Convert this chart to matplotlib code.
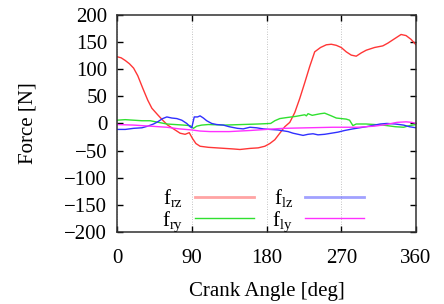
import matplotlib
matplotlib.use('Agg')
import matplotlib.pyplot as plt

plt.rcParams['font.family'] = 'Liberation Serif'
plt.rcParams['mathtext.fontset'] = 'custom'
plt.rcParams['mathtext.rm'] = 'Liberation Serif'
plt.rcParams['mathtext.it'] = 'Liberation Serif:italic'

# crank angle [deg] and force [N]
ang_rz = [0, 5, 10, 15, 20, 25, 31, 37, 42, 49, 55, 61, 68, 76, 82, 87, 91, 95,
          100, 110, 120, 130, 140, 148, 160, 170, 178, 184, 190, 196, 202, 208,
          214, 220, 226, 232, 238, 245, 252, 258, 264, 270, 276, 282, 288, 294,
          300, 310, 320, 326, 334, 342, 348, 354, 360]
f_rz = [123, 121, 116, 110, 102, 88, 65, 43, 28, 16, 6, -3, -10, -18, -20, -17,
        -28, -37, -42, -44, -45, -46, -47, -48, -46, -45, -42, -37, -30, -18,
        -6, 2, 20, 46, 75, 105, 132, 140, 145, 146, 144, 140, 132, 126, 124,
        130, 135, 140, 143, 148, 156, 164, 162, 155, 145]

ang_ry = [0, 10, 20, 30, 40, 50, 60, 70, 80, 88, 92, 96, 102, 110, 130, 150,
          170, 185, 190, 196, 205, 215, 226, 228, 230, 235, 245, 250, 258, 264,
          270, 276, 280, 284, 288, 300, 320, 335, 345, 352, 360]
f_ry = [6, 7, 6, 5, 5, 2, -1, -2, -3, -4, -9, -5, -3, -2, -3, -2, -1, 0, 5, 9,
        11, 13, 16, 14, 18, 15, 18, 19, 14, 10, 9, 8, 6, -4, -1, -1, -3, -6,
        -7, -4, -2]

ang_lz = [0, 10, 20, 30, 37, 44, 49, 55, 60, 66, 72, 78, 84, 88, 90, 93, 97,
          100, 104, 108, 114, 120, 128, 135, 145, 152, 160, 168, 176, 184, 194,
          206, 212, 218, 224, 230, 236, 242, 250, 258, 266, 274, 284, 300, 310,
          317, 325, 335, 345, 352, 360]
f_lz = [-11, -11, -9, -8, -5, -1, 3, 9, 12, 10, 9, 6, 0, -6, -8, 12, 12, 14,
        10, 5, 0, -2, -3, -6, -9, -10, -7, -8, -10, -11, -12, -15, -18, -20,
        -22, -20, -19, -21, -20, -18, -16, -13, -10, -6, -3, -1, 0, -1, -3, -6,
        -8]

ang_ly = [0, 20, 40, 60, 75, 90, 100, 112, 135, 160, 180, 200, 230, 260, 290,
          310, 324, 337, 348, 355, 360]
f_ly = [-2, -3, -5, -7, -10, -12, -14, -15, -15, -13, -11, -9, -8, -7, -7, -5,
        -2, 2, 3, 2, 0]

fig = plt.figure(figsize=(4.44, 3.04), dpi=100)
ax = fig.add_axes([0.2635, 0.237, 0.6735, 0.7138])

ax.plot(ang_rz, f_rz, color='#ff3636', lw=1, label=r'f$_{\mathrm{rz}}$')
ax.plot(ang_ry, f_ry, color='#30e030', lw=1, label=r'f$_{\mathrm{ry}}$')
ax.plot(ang_lz, f_lz, color='#3030ff', lw=1, label=r'f$_{\mathrm{lz}}$')
ax.plot(ang_ly, f_ly, color='#ff30ff', lw=1, label=r'f$_{\mathrm{ly}}$')

ax.set_xlim(0, 360)
ax.set_ylim(-200, 200)
ax.set_xticks([0, 90, 180, 270, 360])
ax.set_yticks(range(-200, 201, 50))
ax.tick_params(direction='in', length=4, width=1, top=True, right=True,
               labelsize=15)
ax.tick_params(axis='x', pad=12)
ax.tick_params(axis='y', pad=7)
ax.xaxis.grid(True, color='#b0b0b0', lw=0.6, ls=(0, (1, 2)))
for s in ax.spines.values():
    s.set_linewidth(1.1)
    s.set_color('#303030')

ax.set_xlabel('Crank Angle [deg]', fontsize=15, labelpad=10)
ax.set_ylabel('Force [N]', fontsize=15, labelpad=19)

leg = ax.legend(ncol=2, loc='center', bbox_to_anchor=(0.487, 0.10),
                frameon=False, fontsize=15, markerfirst=False,
                handlelength=2.8, handletextpad=0.6, columnspacing=0.9,
                labelspacing=0.0, borderpad=0)
for ln, lw, a in zip(leg.get_lines(), [2, 1, 2, 1], [0.45, 1, 0.45, 1]):
    ln.set_linewidth(lw)
    ln.set_alpha(a)

fig.savefig('out.png', dpi=100)
